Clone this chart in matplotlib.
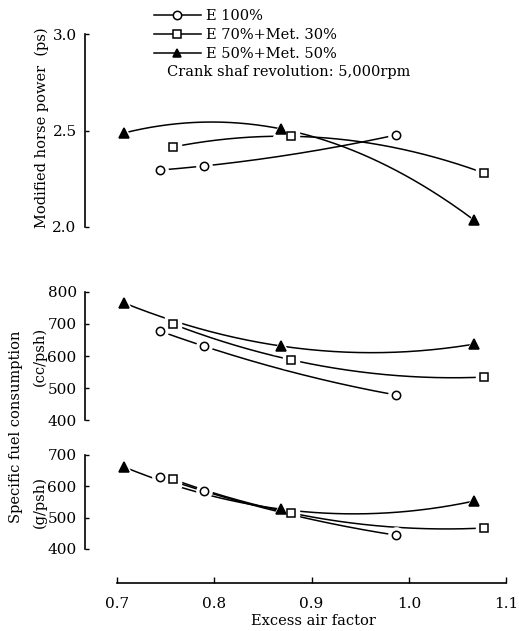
#! /usr/bin/env python3
"""Engine performance vs excess air factor for ethanol / methanol blends."""

import numpy as np
import matplotlib
matplotlib.use('Agg')
import matplotlib.pyplot as plt
from matplotlib.lines import Line2D

plt.rcParams['font.family'] = ['DejaVu Serif']

# ── Data ──────────────────────────────────────────────────────────────────────
SERIES = ['E 100%', 'E 70%+Met. 30%', 'E 50%+Met. 50%']
MARKERS = ['o', 's', '^']
FILLS = ['white', 'white', 'black']

x_e100 = [0.744, 0.789, 0.987]
x_e70 = [0.757, 0.879, 1.077]
x_e50 = [0.707, 0.869, 1.067]

hp_e100 = [2.295, 2.316, 2.477]
hp_e70 = [2.414, 2.470, 2.280]
hp_e50 = [2.487, 2.508, 2.036]

cc_e100 = [678, 631, 478]
cc_e70 = [700, 588, 534]
cc_e50 = [766, 631, 637]

g_e100 = [630, 585, 444]
g_e70 = [623, 515, 467]
g_e50 = [662, 527, 553]

X_TICKS = [0.7, 0.8, 0.9, 1.0, 1.1]
# ─────────────────────────────────────────────────────────────────────────────

W, H = 519, 631
XLIM = (0.667, 1.104)
FS = 10.5     # label font size
TFS = 11      # tick font size


def px_axes(fig, top, bottom, left=85, right=510):
    return fig.add_axes([left / W, 1 - bottom / H, (right - left) / W, (bottom - top) / H])


def style_axes(ax, ybounds, yticks):
    for s in ('top', 'right', 'bottom'):
        ax.spines[s].set_visible(False)
    ax.spines['left'].set_bounds(*ybounds)
    ax.spines['left'].set_linewidth(1.2)
    ax.set_yticks(yticks)
    ax.tick_params(axis='y', direction='in', length=3, width=1.0, labelsize=TFS, pad=6)
    ax.set_xticks([])
    ax.set_xlim(*XLIM)
    ax.patch.set_visible(False)


def draw_series(ax, xs, ys, marker, fill):
    xs = np.asarray(xs)
    ys = np.asarray(ys)
    coef = np.polyfit(xs, ys, 2)
    xx = np.linspace(xs.min(), xs.max(), 200)
    ax.plot(xx, np.polyval(coef, xx), color='black', lw=1.1, zorder=2)
    ax.plot(xs, ys, ls='none', marker=marker, ms=11, mfc='white', mec='white', zorder=3)
    ax.plot(xs, ys, ls='none', marker=marker, ms=6 if marker != '^' else 6.5,
            mfc=fill, mec='black', mew=1.1, zorder=4)


fig = plt.figure(figsize=(W / 100, H / 100), dpi=100)

# ── top: horse power ──
ax1 = px_axes(fig, 34, 227)
ax1.set_ylim(2.0, 3.0)
style_axes(ax1, (2.0, 3.0), [2.0, 2.5, 3.0])
for xs, ys, m, f in zip([x_e100, x_e70, x_e50], [hp_e100, hp_e70, hp_e50], MARKERS, FILLS):
    draw_series(ax1, xs, ys, m, f)

# ── middle: cc/psh ──
ax2 = px_axes(fig, 292, 420)
ax2.set_ylim(400, 800)
style_axes(ax2, (400, 800), [400, 500, 600, 700, 800])
for xs, ys, m, f in zip([x_e100, x_e70, x_e50], [cc_e100, cc_e70, cc_e50], MARKERS, FILLS):
    draw_series(ax2, xs, ys, m, f)

# ── bottom: g/psh, carries the x axis ──
ax3 = px_axes(fig, 455, 583)
ax3.set_ylim(400 - 300 * (583 - 549) / 94, 700)
style_axes(ax3, (400, 700), [400, 500, 600, 700])
ax3.spines['bottom'].set_visible(True)
ax3.spines['bottom'].set_bounds(0.7, 1.1)
ax3.spines['bottom'].set_linewidth(1.2)
ax3.set_xticks(X_TICKS)
ax3.set_xticklabels(['{:.1f}'.format(v) for v in X_TICKS])
ax3.tick_params(axis='x', direction='in', length=4, width=1.0, labelsize=TFS, pad=10)
ax3.set_xlabel('Excess air factor', fontsize=FS)
ax3.xaxis.set_label_coords((313 - 85) / 425, -0.24)
for xs, ys, m, f in zip([x_e100, x_e70, x_e50], [g_e100, g_e70, g_e50], MARKERS, FILLS):
    draw_series(ax3, xs, ys, m, f)

# ── y labels ──
fig.text(42 / W, 1 - 128 / H, 'Modified horse power  (ps)', rotation=90,
         ha='center', va='center', fontsize=FS)
fig.text(16 / W, 1 - 427 / H, 'Specific fuel consumption', rotation=90,
         ha='center', va='center', fontsize=FS)
fig.text(40 / W, 1 - 356 / H, '(cc/psh)', rotation=90,
         ha='center', va='center', fontsize=FS)
fig.text(40 / W, 1 - 502 / H, '(g/psh)', rotation=90,
         ha='center', va='center', fontsize=FS)

# ── legend ──
handles = [Line2D([], [], color='black', lw=1.1, marker=m, ms=6, mfc=f, mec='black', mew=1.1)
           for m, f in zip(MARKERS, FILLS)]
fig.legend(handles, SERIES, loc='upper left', bbox_to_anchor=(148 / W, 1 - 3 / H),
           frameon=False, fontsize=FS, handlelength=3.2, handletextpad=0.4,
           labelspacing=0.35, borderaxespad=0, numpoints=1)
fig.text(167 / W, 1 - 72 / H, 'Crank shaf revolution: 5,000rpm',
         ha='left', va='center', fontsize=FS)

fig.savefig('out.png', dpi=100)
